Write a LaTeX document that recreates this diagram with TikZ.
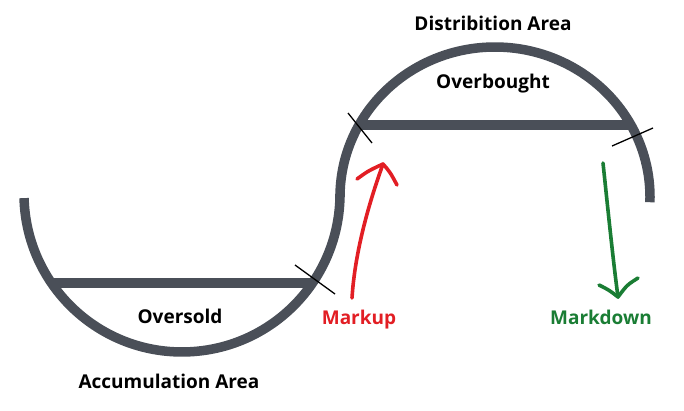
\documentclass[tikz,border=0pt]{standalone}
\usepackage{fontspec}
\setmainfont{Open Sans}
\definecolor{curvegray}{RGB}{74,79,88}
\definecolor{mkred}{RGB}{226,30,36}
\definecolor{mkgreen}{RGB}{26,125,52}
\begin{document}
\begin{tikzpicture}[x=1pt,y=-1pt,
  curveline/.style={draw=curvegray, line width=9.5pt},
  tickline/.style={draw=black, line width=1.3pt},
  lbl/.style={font=\fontsize{19}{22}\selectfont\bfseries, inner sep=0pt, anchor=base},
  handarrow/.style={line width=3.6pt, line cap=round, line join=round}]
\useasboundingbox (0,0) rectangle (684,410);
% S-shaped curve
\draw[curveline] (24.05,198.1) arc[start angle=178.5, end angle=0, radius=158]
  -- (340,197) arc[start angle=180, end angle=362, x radius=155, y radius=150];
% chords
\draw[curveline] (51.5,283) -- (312.5,283);
\draw[curveline] (359,125) -- (631,125);
% ticks
\draw[tickline] (295,265) -- (335,294);
\draw[tickline] (348,113) -- (372,143);
\draw[tickline] (612,146) -- (653,128);
% labels
\node[lbl] (dist) at (493,30) {Distribition Area};
\node[lbl] (overb) at (493,88.5) {Overbought};
\node[lbl] (overs) at (180,323.5) {Oversold};
\node[lbl] (accum) at (169,388) {Accumulation Area};
\node[lbl, text=mkred] (mup) at (359,324) {Markup};
\node[lbl, text=mkgreen] (mdown) at (601,324) {Markdown};
% markup arrow
\coordinate (rtail) at (352,298);
\coordinate (rtip) at (383,164);
\coordinate (rwl) at (357,179);
\coordinate (rwr) at (397,185);
\draw[handarrow, mkred] (rtail) .. controls (355,250) and (370,200) .. (rtip);
\draw[handarrow, mkred] (rwl) .. controls (368,171) .. (rtip) .. controls (390,172) .. (rwr);
% markdown arrow
\coordinate (gtail) at (603,163);
\coordinate (gtip) at (618,297);
\coordinate (gwl) at (599,285);
\coordinate (gwr) at (638,278);
\draw[handarrow, mkgreen] (gtail) .. controls (608,210) and (613,260) .. (gtip);
\draw[handarrow, mkgreen] (gwl) .. controls (609,290) .. (gtip) .. controls (627,285) .. (gwr);
\end{tikzpicture}
\end{document}
